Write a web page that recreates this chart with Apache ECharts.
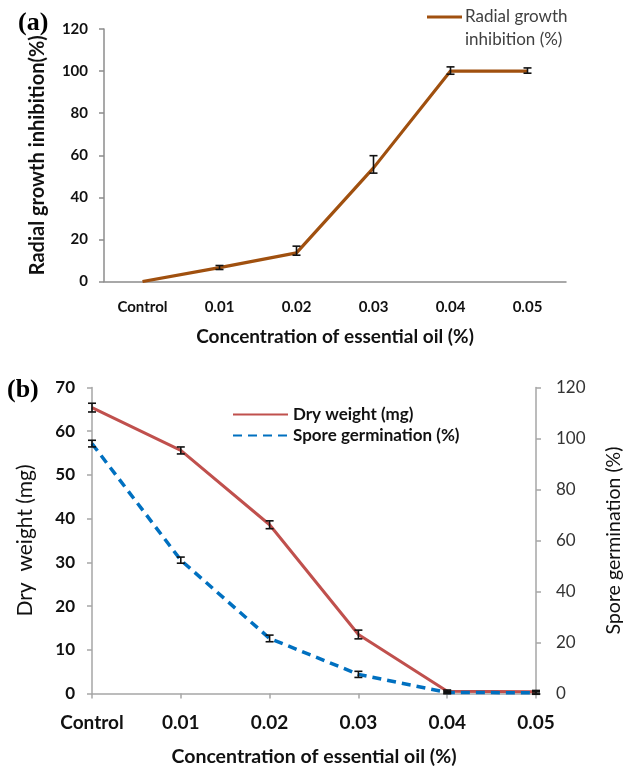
<!DOCTYPE html>
<html>
<head>
<meta charset="utf-8">
<script src="https://cdn.jsdelivr.net/npm/echarts@6/dist/echarts.min.js"></script>
<style>
html,body{margin:0;padding:0;background:#fff;}
#main{width:632px;height:768px;}
</style>
</head>
<body>
<div id="main"></div>
<script>
// ---- Data ----
const categories = ['Control', '0.01', '0.02', '0.03', '0.04', '0.05'];
// Panel (a)
const radialInhibition = [0, 6.6, 13.6, 54, 100, 100];
const radialErrLow  = [null, 5.7, 12.5, 51.5, 98.5, 99.0];
const radialErrHigh = [null, 7.6, 16.8, 59.8, 102.0, 101.5];
// Panel (b)
const dryWeight = [65.4, 55.6, 38.6, 13.5, 0.5, 0.4];
const dryErr    = [1.0, 0.8, 0.9, 1.0, 0.3, 0.3];
const sporeGerm = [98, 52.3, 21.6, 7.5, 0.4, 0.3];
const sporeErr  = [1.3, 1.2, 1.3, 1.2, 0.5, 0.6];
const yTicksA = [0, 20, 40, 60, 80, 100, 120];
const yTicksBLeft = [0, 10, 20, 30, 40, 50, 60, 70];
const yTicksBRight = [0, 20, 40, 60, 80, 100, 120];

const FONT = 'Lato';
const axisGrayA = '#8c8c8c';
const axisGrayB = '#a6a6a6';

function errData(lo, hi) {
  const out = [];
  for (let i = 0; i < categories.length; i++) {
    if (lo[i] == null) continue;
    out.push([i, lo[i], hi[i]]);
  }
  return out;
}
function symErr(vals, errs) {
  return errData(vals.map((v, i) => v - errs[i]), vals.map((v, i) => v + errs[i]));
}
function errRender(params, api) {
  const x = api.value(0);
  const p1 = api.coord([x, api.value(1)]);
  const p2 = api.coord([x, api.value(2)]);
  const w = 4;
  const st = { stroke: '#111', lineWidth: 1.6 };
  return {
    type: 'group',
    children: [
      { type: 'line', shape: { x1: p1[0], y1: p1[1], x2: p2[0], y2: p2[1] }, style: st },
      { type: 'line', shape: { x1: p1[0] - w, y1: p1[1], x2: p1[0] + w, y2: p1[1] }, style: st },
      { type: 'line', shape: { x1: p2[0] - w, y1: p2[1], x2: p2[0] + w, y2: p2[1] }, style: st }
    ]
  };
}

const chart = echarts.init(document.getElementById('main'), null, { renderer: 'canvas' });

const option = {
  backgroundColor: '#fff',
  animation: false,
  textStyle: { fontFamily: FONT },
  grid: [
    { left: 104, top: 29, width: 462, height: 252.5 },
    { left: 92, top: 387.5, width: 455, height: 306 }
  ],
  xAxis: [
    {
      type: 'category', gridIndex: 0, data: categories, boundaryGap: true,
      name: 'Concentration of essential oil (%)', nameLocation: 'middle', nameGap: 46,
      nameTextStyle: { fontFamily: FONT, fontSize: 19, fontWeight: 'bold', color: '#111' },
      axisLine: { lineStyle: { color: axisGrayA, width: 1.5 } },
      axisTick: { show: false },
      axisLabel: { margin: 18, fontFamily: FONT, fontSize: 15, fontWeight: 'bold', color: '#111' }
    },
    {
      type: 'category', gridIndex: 1, data: categories, boundaryGap: false,
      name: 'Concentration of essential oil (%)', nameLocation: 'middle', nameGap: 53,
      nameTextStyle: { fontFamily: FONT, fontSize: 19.5, fontWeight: 'bold', color: '#111' },
      axisLine: { lineStyle: { color: axisGrayB, width: 1.5 } },
      axisTick: { show: true, length: 5, alignWithLabel: true, lineStyle: { color: axisGrayB, width: 1.5 } },
      axisLabel: { margin: 20, fontFamily: FONT, fontSize: 19, fontWeight: 'bold', color: '#111' }
    }
  ],
  yAxis: [
    {
      type: 'value', gridIndex: 0, min: yTicksA[0], max: yTicksA[yTicksA.length - 1], interval: 20,
      name: 'Radial growth inhibition(%)', nameLocation: 'middle', nameGap: 56,
      nameTextStyle: { fontFamily: FONT, fontSize: 20, fontWeight: 'bold', color: '#111' },
      axisLine: { show: true, lineStyle: { color: axisGrayA, width: 1.5 } },
      axisTick: { show: true, length: 5, lineStyle: { color: axisGrayA, width: 1.5 } },
      axisLabel: { margin: 16, fontFamily: FONT, fontSize: 15, fontWeight: 'bold', color: '#111' },
      splitLine: { show: false }
    },
    {
      type: 'value', gridIndex: 1, position: 'left', min: yTicksBLeft[0], max: yTicksBLeft[yTicksBLeft.length - 1], interval: 10,
      name: 'Dry  weight (mg)', nameLocation: 'middle', nameGap: 56,
      nameTextStyle: { fontFamily: FONT, fontSize: 21, color: '#111' },
      axisLine: { show: true, lineStyle: { color: axisGrayB, width: 1.5 } },
      axisTick: { show: true, length: 5, lineStyle: { color: axisGrayB, width: 1.5 } },
      axisLabel: { margin: 17, fontFamily: FONT, fontSize: 17, fontWeight: 'bold', color: '#111' },
      splitLine: { show: false }
    },
    {
      type: 'value', gridIndex: 1, position: 'right', min: yTicksBRight[0], max: yTicksBRight[yTicksBRight.length - 1], interval: 20,
      name: 'Spore germination (%)', nameLocation: 'middle', nameGap: 68,
      nameTextStyle: { fontFamily: FONT, fontSize: 19.5, color: '#111' },
      axisLine: { show: true, lineStyle: { color: axisGrayB, width: 1.5 } },
      axisTick: { show: true, length: 5, lineStyle: { color: axisGrayB, width: 1.5 } },
      axisLabel: { margin: 20, fontFamily: FONT, fontSize: 17, color: '#333' },
      splitLine: { show: false }
    }
  ],
  legend: [
    {
      data: ['Dry weight (mg)', 'Spore germination (%)'],
      orient: 'vertical', left: 227, top: 401,
      itemWidth: 55, itemHeight: 14, itemGap: 4,
      itemStyle: { opacity: 0 },
      textStyle: { fontFamily: FONT, fontSize: 17, fontWeight: 'bold', color: '#111' }
    }
  ],
  graphic: [
    { type: 'text', left: 18, top: 10, style: { text: '(a)', font: 'bold 26px "Liberation Serif"', fill: '#000' } },
    { type: 'text', left: 7, top: 377, style: { text: '(b)', font: 'bold 26px "Liberation Serif"', fill: '#000' } },
    { type: 'line', shape: { x1: 427, y1: 17, x2: 462, y2: 17 }, style: { stroke: '#A0500F', lineWidth: 3 } },
    { type: 'text', left: 465, top: 5, style: { text: 'Radial growth\ninhibition (%)', font: '17px Lato', fill: '#404040', lineHeight: 23 } }
  ],
  series: [
    {
      name: 'Radial growth inhibition (%)', type: 'line', xAxisIndex: 0, yAxisIndex: 0,
      data: radialInhibition, symbol: 'none', showSymbol: false,
      lineStyle: { color: '#A0500F', width: 3.2 }, itemStyle: { color: '#A0500F' }, z: 2
    },
    {
      type: 'custom', xAxisIndex: 0, yAxisIndex: 0, renderItem: errRender,
      encode: { x: 0, y: [1, 2] }, data: errData(radialErrLow, radialErrHigh), z: 3, silent: true
    },
    {
      name: 'Dry weight (mg)', type: 'line', xAxisIndex: 1, yAxisIndex: 1,
      data: dryWeight, symbol: 'none', showSymbol: false,
      lineStyle: { color: '#C0504D', width: 3 }, itemStyle: { color: '#C0504D' }, z: 2
    },
    {
      name: 'Spore germination (%)', type: 'line', xAxisIndex: 1, yAxisIndex: 2,
      data: sporeGerm, symbol: 'none', showSymbol: false,
      lineStyle: { color: '#0070C0', width: 3.5, type: [9, 6] }, itemStyle: { color: '#0070C0' }, z: 3
    },
    {
      type: 'custom', xAxisIndex: 1, yAxisIndex: 1, renderItem: errRender,
      encode: { x: 0, y: [1, 2] }, data: symErr(dryWeight, dryErr), z: 4, silent: true
    },
    {
      type: 'custom', xAxisIndex: 1, yAxisIndex: 2, renderItem: errRender,
      encode: { x: 0, y: [1, 2] }, data: symErr(sporeGerm, sporeErr), z: 4, silent: true
    }
  ]
};
chart.setOption(option);
</script>
</body>
</html>
